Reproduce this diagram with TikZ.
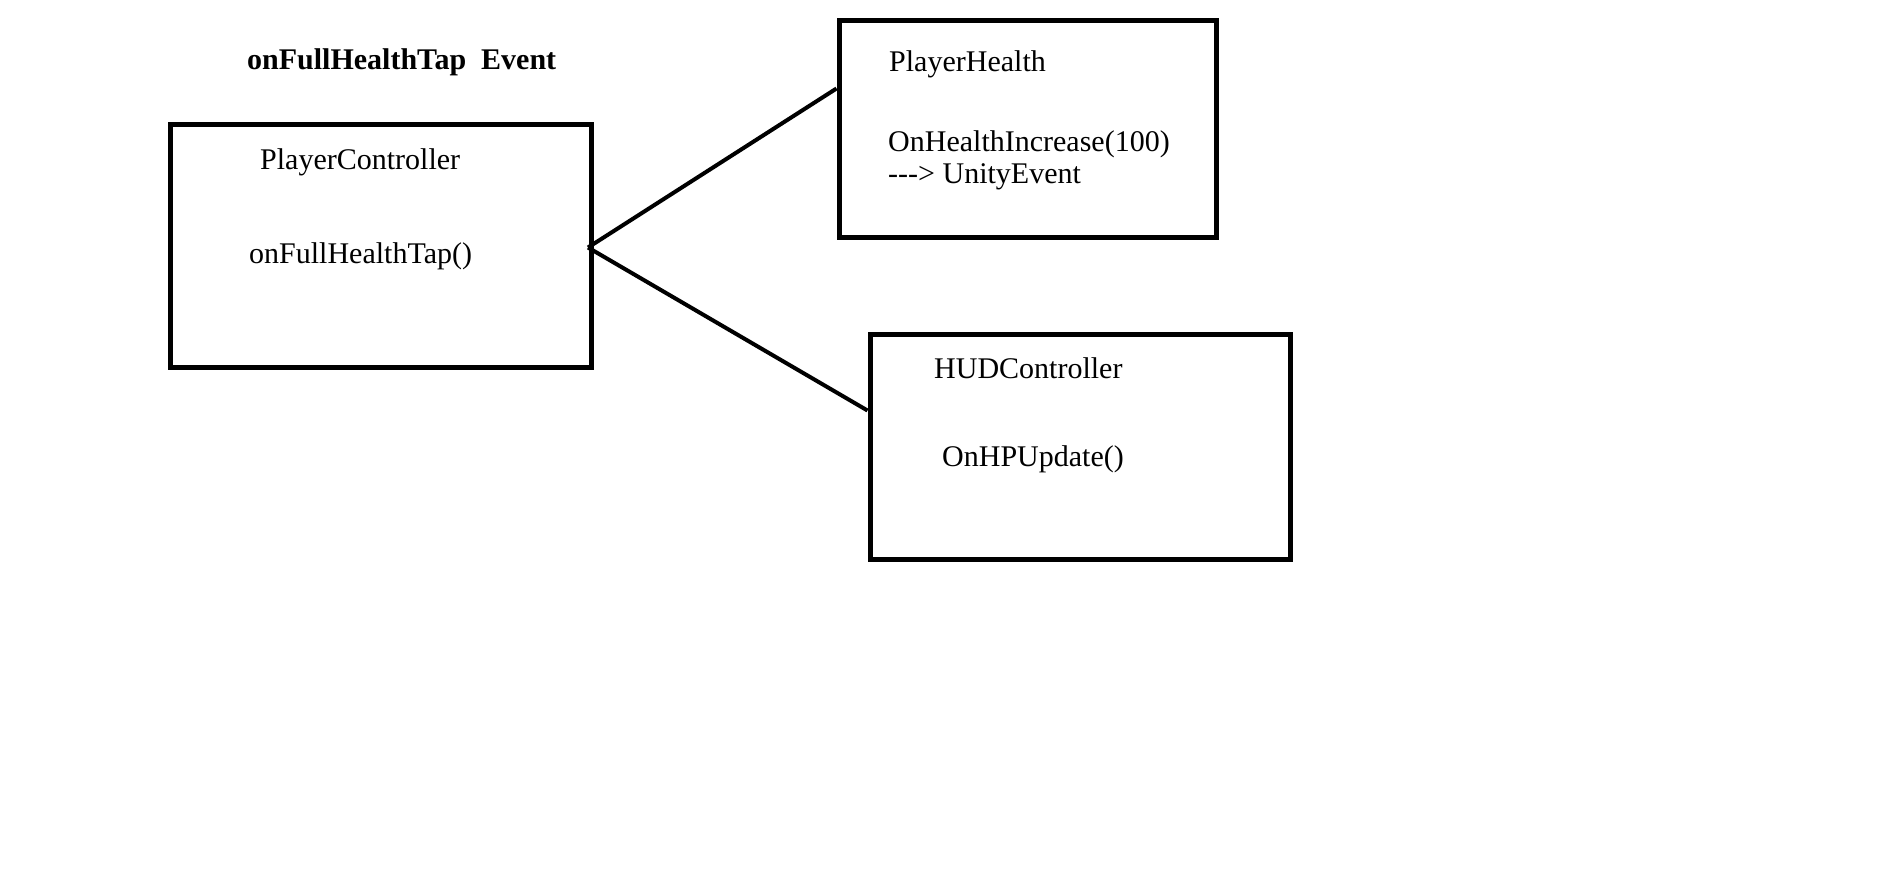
\documentclass[tikz,border=0pt]{standalone}
\usepackage{fontspec}
\setmainfont{Liberation Serif}[Ligatures=TeXOff]
\begin{document}
\begin{tikzpicture}[x=1pt,y=-1pt,
  box/.style={draw=black,line width=5pt,rectangle,inner sep=0pt,anchor=north west},
  lbl/.style={anchor=base west,inner sep=0pt,font=\fontsize{30}{36}\selectfont},
  conn/.style={draw=black,line width=4pt}]
\useasboundingbox[fill=white] (0,0) rectangle (1895,879);
% boxes
\node[box,minimum width=421pt,minimum height=243pt] (pc) at (168,121.5) {};
\node[box,minimum width=377pt,minimum height=217pt] (ph) at (836.5,17.5) {};
\node[box,minimum width=420pt,minimum height=225pt] (hud) at (867.5,331.5) {};
% texts
\node[lbl,font=\bfseries\fontsize{30}{36}\selectfont] (title) at (247,69) {onFullHealthTap\ \ Event};
\node[lbl] (pcname) at (260,169) {PlayerController};
\node[lbl] (pcfun) at (249,263) {onFullHealthTap()};
\node[lbl] (phname) at (889,71) {PlayerHealth};
\node[lbl] (phfun) at (888,151) {OnHealthIncrease(100)};
\node[lbl] (phev) at (888,183) {---> UnityEvent};
\node[lbl] (hudname) at (934,378) {HUDController};
\node[lbl] (hudfun) at (942,466) {OnHPUpdate()};
% connectors
\coordinate (src) at ([xshift=-6pt,yshift=-2pt]pc.east);
\coordinate (phin) at ([yshift=40pt]ph.west);
\coordinate (hudin) at ([yshift=36pt]hud.west);
\draw[conn] (src) -- (phin);
\draw[conn] (src) -- (hudin);
\end{tikzpicture}
\end{document}
